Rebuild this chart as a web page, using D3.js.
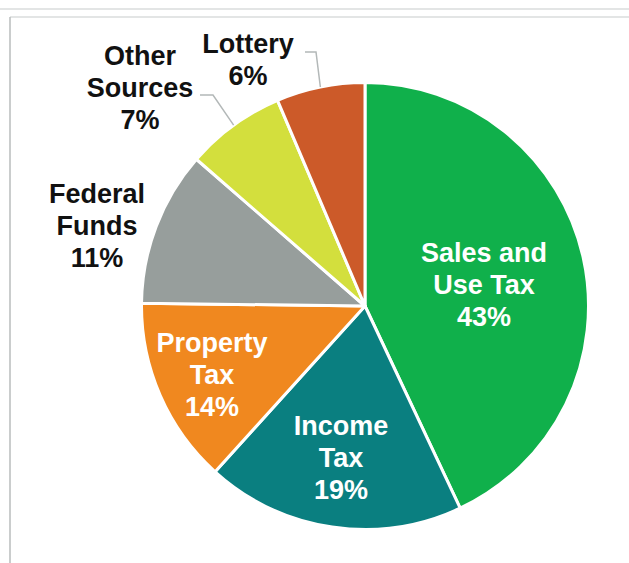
<!DOCTYPE html>
<html>
<head>
<meta charset="utf-8">
<script src="https://cdn.jsdelivr.net/npm/d3@7"></script>
<style>
  html, body { margin: 0; padding: 0; background: #ffffff; }
  svg { display: block; }
</style>
</head>
<body>
<svg id="chart" width="629" height="563"></svg>
<script>
// ---- data ----
const categories = ["Sales and Use Tax", "Income Tax", "Property Tax", "Federal Funds", "Other Sources", "Lottery"];
const values = [43.0, 18.7, 13.5, 11.2, 7.2, 6.4];
const percentLabels = ["43%", "19%", "14%", "11%", "7%", "6%"];
const labelLines = [
  ["Sales and", "Use Tax"],
  ["Income", "Tax"],
  ["Property", "Tax"],
  ["Federal", "Funds"],
  ["Other", "Sources"],
  ["Lottery"]
];

// ---- styles / layout ----
const colors = ["#10b04b", "#0a7f80", "#f0881f", "#979e9c", "#d3df3d", "#cc5a29"];
const textColors = ["#ffffff", "#ffffff", "#ffffff", "#111111", "#111111", "#111111"];
// label offsets relative to pie centre (x centre, first baseline)
const labelOffsets = [[119, -44], [-24, 129], [-153, 46], [-268, -103], [-225, -241], [-117, -253]];
// leader lines: horizontal start x and elbow (relative to centre), only for outside labels
const leaders = [null, null, null, null, { x0: -165, x1: -152, y: -211 }, { x0: -60, x1: -49, y: -254 }];

const W = 629, H = 563;
const cx = 365, cy = 306, R = 223.5;
const svg = d3.select("#chart");

// frame
svg.append("line").attr("x1", 0).attr("x2", W).attr("y1", 9).attr("y2", 9)
  .attr("stroke", "#c8cbcb").attr("stroke-width", 1.2);
svg.append("line").attr("x1", 10).attr("x2", W).attr("y1", 17).attr("y2", 17)
  .attr("stroke", "#c8cbcb").attr("stroke-width", 1.2);
svg.append("line").attr("x1", 10).attr("x2", 10).attr("y1", 17).attr("y2", H)
  .attr("stroke", "#b8bcbc").attr("stroke-width", 1.5);

const data = categories.map((c, i) => ({ cat: c, value: values[i], i }));
const pie = d3.pie().value(d => d.value).sort(null);
const arcs = pie(data);
const arc = d3.arc().innerRadius(0).outerRadius(R);

const g = svg.append("g").attr("transform", `translate(${cx},${cy})`);

g.selectAll("path.slice").data(arcs).enter().append("path")
  .attr("class", "slice")
  .attr("d", arc)
  .attr("fill", d => colors[d.data.i])
  .attr("stroke", "#ffffff")
  .attr("stroke-width", 3)
  .attr("stroke-linejoin", "round");

// leader lines
arcs.forEach(d => {
  const L = leaders[d.data.i];
  if (!L) return;
  const mid = (d.startAngle + d.endAngle) / 2;
  const ex = R * Math.sin(mid), ey = -R * Math.cos(mid);
  g.append("polyline")
    .attr("points", [[L.x0, L.y], [L.x1, L.y], [ex, ey]].map(p => p.join(",")).join(" "))
    .attr("fill", "none")
    .attr("stroke", "#b3b8b8")
    .attr("stroke-width", 1.5);
});

// labels
const lineH = 32;
arcs.forEach(d => {
  const i = d.data.i;
  const [ox, oy] = labelOffsets[i];
  const lines = labelLines[i].concat([percentLabels[i]]);
  const t = g.append("text")
    .attr("x", ox).attr("y", oy)
    .attr("text-anchor", "middle")
    .attr("font-family", "'Liberation Sans', Arial, sans-serif")
    .attr("font-weight", "bold")
    .attr("font-size", 27)
    .attr("fill", textColors[i]);
  lines.forEach((s, k) => {
    t.append("tspan").attr("x", ox).attr("y", oy + k * lineH).text(s);
  });
});
</script>
</body>
</html>
